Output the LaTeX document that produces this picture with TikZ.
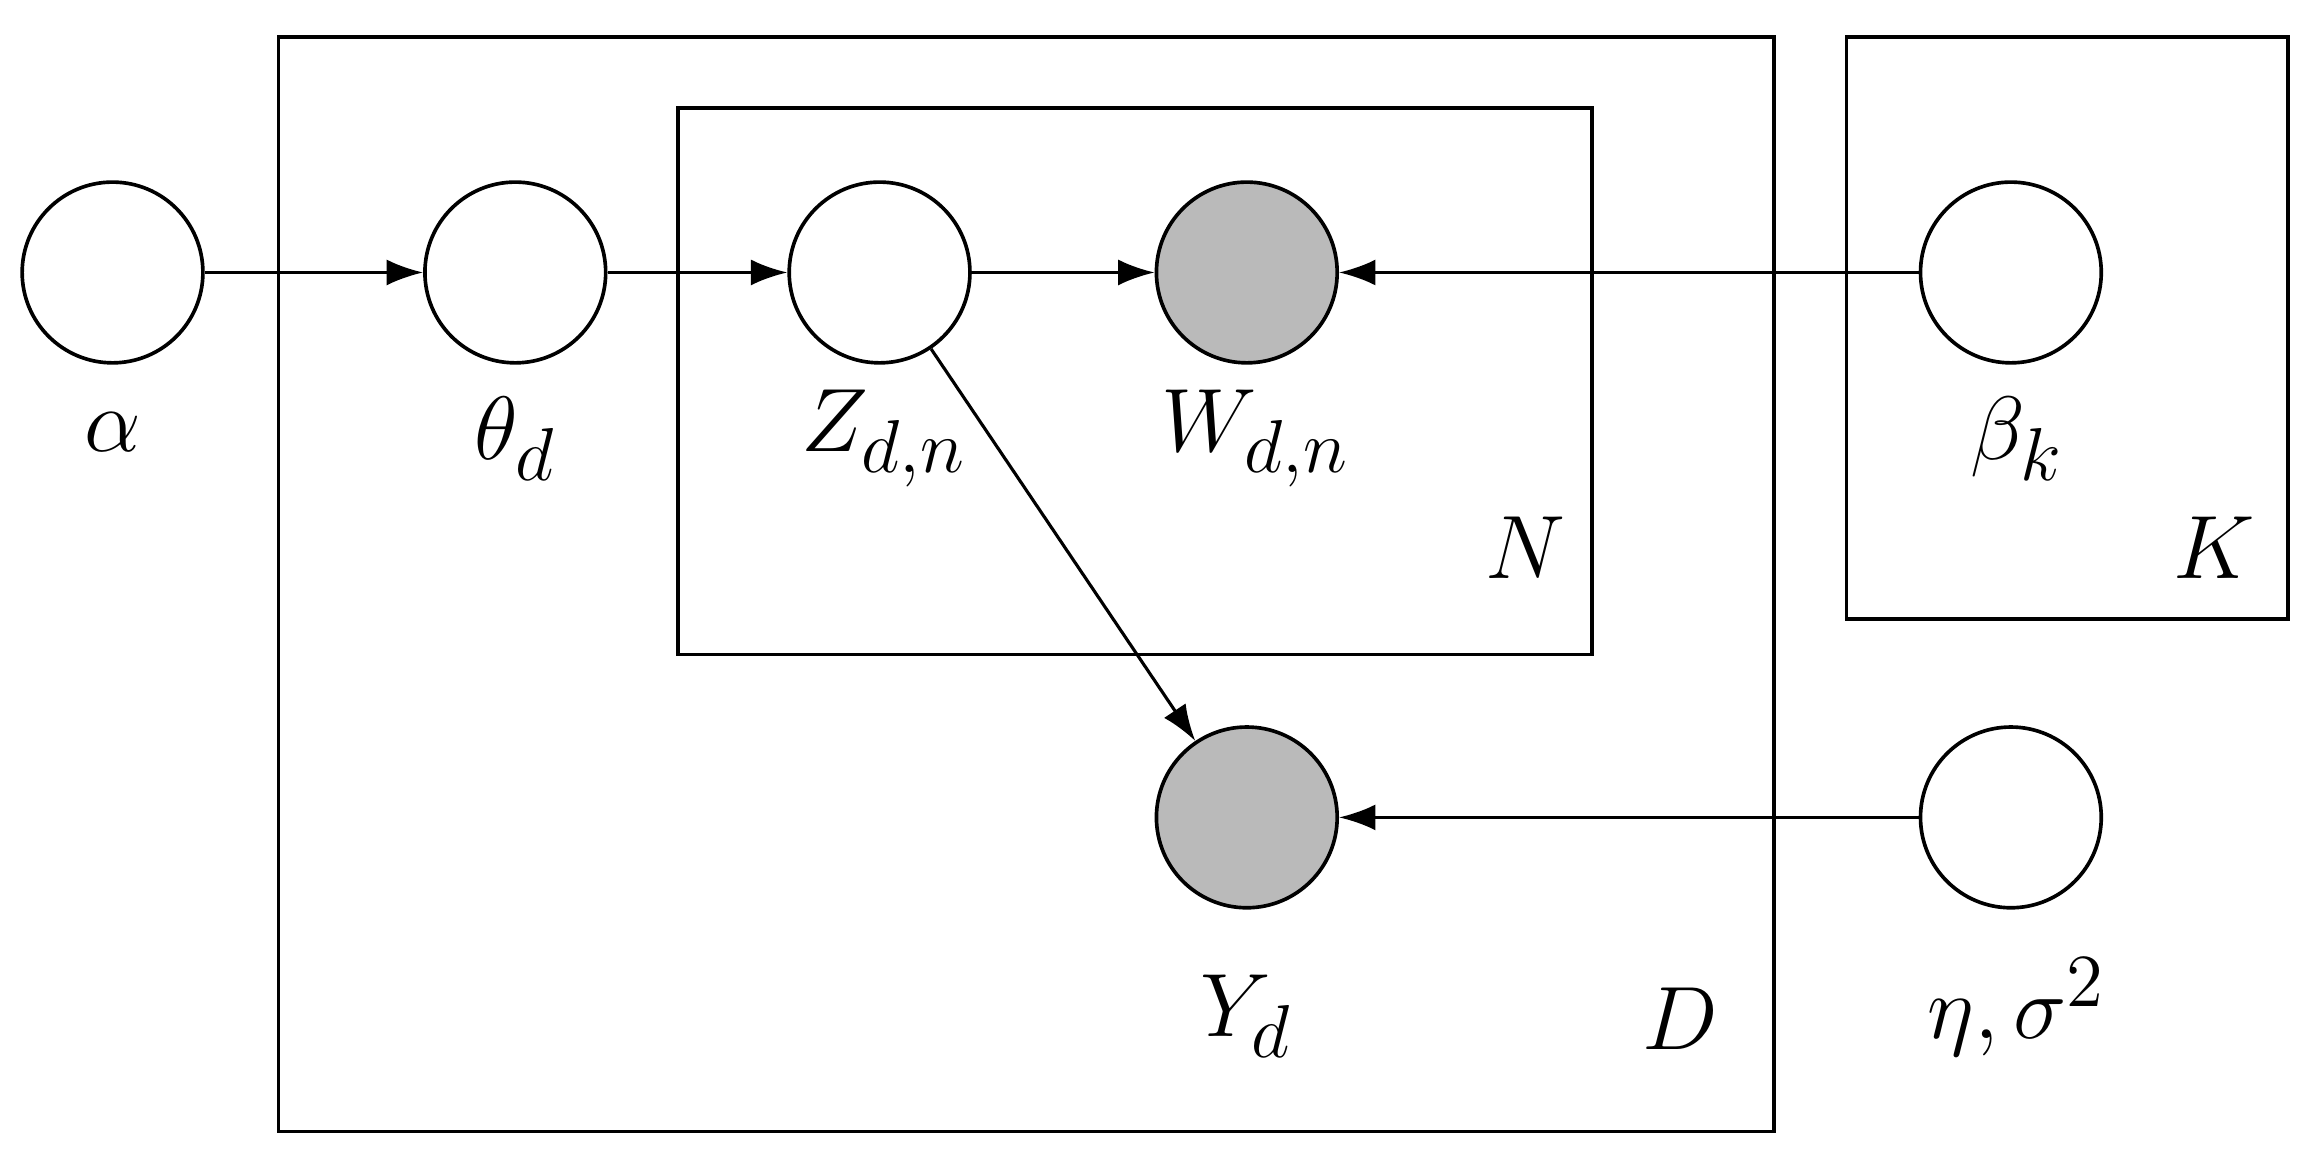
\documentclass[tikz,border=0pt]{standalone}
\usetikzlibrary{arrows.meta}
\begin{document}
\begin{tikzpicture}[x=0.01cm,y=-0.01cm,
  var/.style={circle,draw,line width=0.7pt,minimum size=1.22cm,inner sep=0pt},
  obs/.style={var,fill=black!27},
  lab/.style={font=\fontsize{19}{22}\selectfont},
  plate/.style={draw,line width=0.7pt},
  edge/.style={-{Latex[length=7pt,width=5pt]},line width=0.6pt}]
\useasboundingbox (0,0) rectangle (1560,784);
\node[var] (a) at (76,184) {};
\node[var] (t) at (348,184) {};
\node[var] (z) at (594,184) {};
\node[obs] (w) at (842,184) {};
\node[var] (b) at (1358,184) {};
\node[obs] (y) at (842,552) {};
\node[var] (e) at (1358,552) {};
\node[lab] (la) at (76,292) {$\alpha$};
\node[lab] (lt) at (348,296) {$\theta_d$};
\node[lab] (lz) at (597,296) {$Z_{d,n}$};
\node[lab] (lw) at (848,296) {$W_{d,n}$};
\node[lab] (lb) at (1362,296) {$\beta_k$};
\node[lab] (ly) at (842,686) {$Y_d$};
\node[lab] (le) at (1362,680) {$\eta,\sigma^2$};
\draw[plate] (188,25) rectangle (1198,764);
\draw[plate] (458,73) rectangle (1075,442);
\draw[plate] (1247,25) rectangle (1545,418);
\node[lab] (pn) at (1030,370) {$N$};
\node[lab] (pk) at (1495,370) {$K$};
\node[lab] (pd) at (1135,688) {$D$};
\draw[edge] (a) -- (t);
\draw[edge] (t) -- (z);
\draw[edge] (z) -- (w);
\draw[edge] (b) -- (w);
\draw[edge] (z) -- (y);
\draw[edge] (e) -- (y);
\end{tikzpicture}
\end{document}
